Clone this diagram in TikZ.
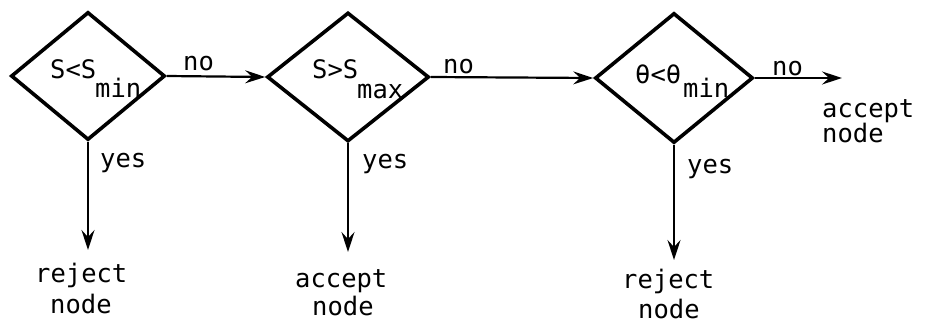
\documentclass[tikz,border=0pt]{standalone}
\usepackage{fontspec}
\setmainfont{DejaVu Sans Mono}
\usetikzlibrary{shapes.geometric,arrows.meta}
\tikzset{
  test/.style={diamond,draw,line width=3.6pt,inner sep=0pt,minimum width=154pt,minimum height=128pt,aspect=1.2},
  lbl/.style={anchor=base west,inner sep=0pt,font=\fontsize{25.5}{30}\selectfont},
  flow/.style={line width=2.2pt,-{Stealth[length=20pt,width=13pt,inset=7pt]}}
}
\begin{document}
\begin{tikzpicture}[x=1pt,y=-1pt]
\useasboundingbox (0,0) rectangle (925,324);
% decision diamonds
\node[test] (d1) at (88,76) {};
\node[test,minimum width=162pt,minimum height=129pt] (d2) at (348,77) {};
\node[test,minimum width=158pt,minimum height=130pt] (d3) at (674,78) {};
% texts inside diamonds
\node[lbl] (t1) at (50,78) {S<S};
\node[lbl] (s1) at (95,97) {min};
\node[lbl] (t2) at (312,78) {S>S};
\node[lbl] (s2) at (357,98) {max};
\node[lbl] (t3) at (635,83) {θ<θ};
\node[lbl] (s3) at (683,97) {min};
% end points
\coordinate (e1) at (88,250);
\coordinate (e2) at (348,252);
\coordinate (e3) at (674,260);
\coordinate (e4) at (842,78);
% connectors
\draw[flow] (d1.east) -- (d2.west);
\draw[flow] (d2.east) -- (d3.west);
\draw[flow] (d3.east) -- (e4);
\draw[flow] (d1.south) -- (e1);
\draw[flow] (d2.south) -- (e2);
\draw[flow] (d3.south) -- (e3);
% connector labels
\node[lbl] (n1) at (183,70) {no};
\node[lbl] (n2) at (443,73) {no};
\node[lbl] (n3) at (772,75) {no};
\node[lbl] (y1) at (100,167) {yes};
\node[lbl] (y2) at (362,168) {yes};
\node[lbl] (y3) at (687,173) {yes};
% outcomes
\node[lbl] (r1a) at (35,282) {reject};
\node[lbl] (r1b) at (50,313) {node};
\node[lbl] (a2a) at (295,287) {accept};
\node[lbl] (a2b) at (312,315) {node};
\node[lbl] (r3a) at (622,288) {reject};
\node[lbl] (r3b) at (638,318) {node};
\node[lbl] (a4a) at (822,117) {accept};
\node[lbl] (a4b) at (822,142) {node};
\end{tikzpicture}
\end{document}
